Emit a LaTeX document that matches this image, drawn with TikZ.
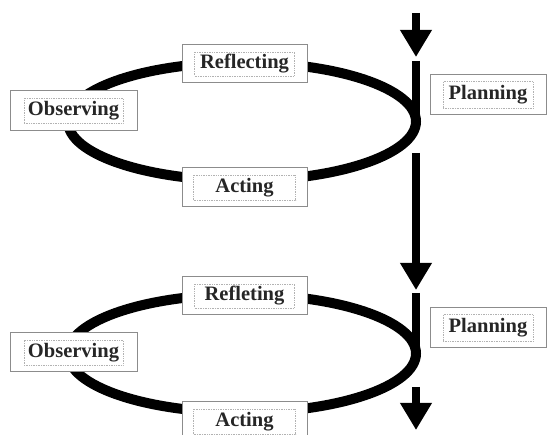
\documentclass[tikz,border=0pt]{standalone}
\usepackage{fontspec}
\setmainfont{Liberation Serif}
\usetikzlibrary{arrows.meta}
\begin{document}
\begin{tikzpicture}[x=1pt,y=-1pt,
  cycleline/.style={line width=10pt, black},
  vline/.style={line width=8pt, black, line cap=butt},
  flowarrow/.style={line width=8pt, black, -{Triangle[width=30pt,length=27pt]}},
  outerbox/.style={draw=black!45, line width=1pt, fill=white, inner sep=0pt},
  innerbox/.style={draw=black!30, densely dotted, line width=0.7pt, inner sep=0pt,
    text=black!85, font=\fontsize{20.5}{24}\selectfont\bfseries}]
\useasboundingbox[fill=white] (0,0) rectangle (547,435);

% cycles
\draw[cycleline] (242,121.5) ellipse [x radius=174pt, y radius=59pt];
\draw[cycleline] (242,353.5) ellipse [x radius=174pt, y radius=59pt];

% vertical flow
\coordinate (s0) at (416,13);
\coordinate (t0) at (416,57);
\coordinate (l0a) at (416,61);
\coordinate (l0b) at (416,121.5);
\coordinate (s1) at (416,153);
\coordinate (t1) at (416,290);
\coordinate (l1a) at (416,293);
\coordinate (l1b) at (416,353.5);
\coordinate (s2) at (416,387);
\coordinate (t2) at (416,430);
\draw[flowarrow] (s0) -- (t0);
\draw[vline] (l0a) -- (l0b);
\draw[flowarrow] (s1) -- (t1);
\draw[vline] (l1a) -- (l1b);
\draw[flowarrow] (s2) -- (t2);

% first cycle labels
\node[outerbox, minimum width=125pt, minimum height=38pt] (refl1) at (244.5,64) {};
\node[innerbox, minimum width=100pt, minimum height=24pt] (refl1t) at (refl1) {Reflecting};
\node[outerbox, minimum width=127pt, minimum height=40pt] (obs1) at (73.5,111) {};
\node[innerbox, minimum width=99pt, minimum height=25pt] (obs1t) at (obs1) {Observing};
\node[outerbox, minimum width=125pt, minimum height=39pt] (act1) at (244.5,187.5) {};
\node[innerbox, minimum width=102pt, minimum height=25pt] (act1t) at (act1) {Acting};
\node[outerbox, minimum width=116pt, minimum height=40pt] (plan1) at (488,95) {};
\node[innerbox, minimum width=90pt, minimum height=27pt] (plan1t) at (plan1) {Planning};

% second cycle labels
\node[outerbox, minimum width=125pt, minimum height=38pt] (refl2) at (244.5,296) {};
\node[innerbox, minimum width=100pt, minimum height=24pt] (refl2t) at (refl2) {Refleting};
\node[outerbox, minimum width=127pt, minimum height=39pt] (obs2) at (73.5,352.5) {};
\node[innerbox, minimum width=99pt, minimum height=25pt] (obs2t) at (obs2) {Observing};
\node[outerbox, minimum width=125pt, minimum height=39pt] (act2) at (244.5,421.5) {};
\node[innerbox, minimum width=102pt, minimum height=25pt] (act2t) at (act2) {Acting};
\node[outerbox, minimum width=116pt, minimum height=40pt] (plan2) at (488,328) {};
\node[innerbox, minimum width=90pt, minimum height=27pt] (plan2t) at (plan2) {Planning};
\end{tikzpicture}
\end{document}
